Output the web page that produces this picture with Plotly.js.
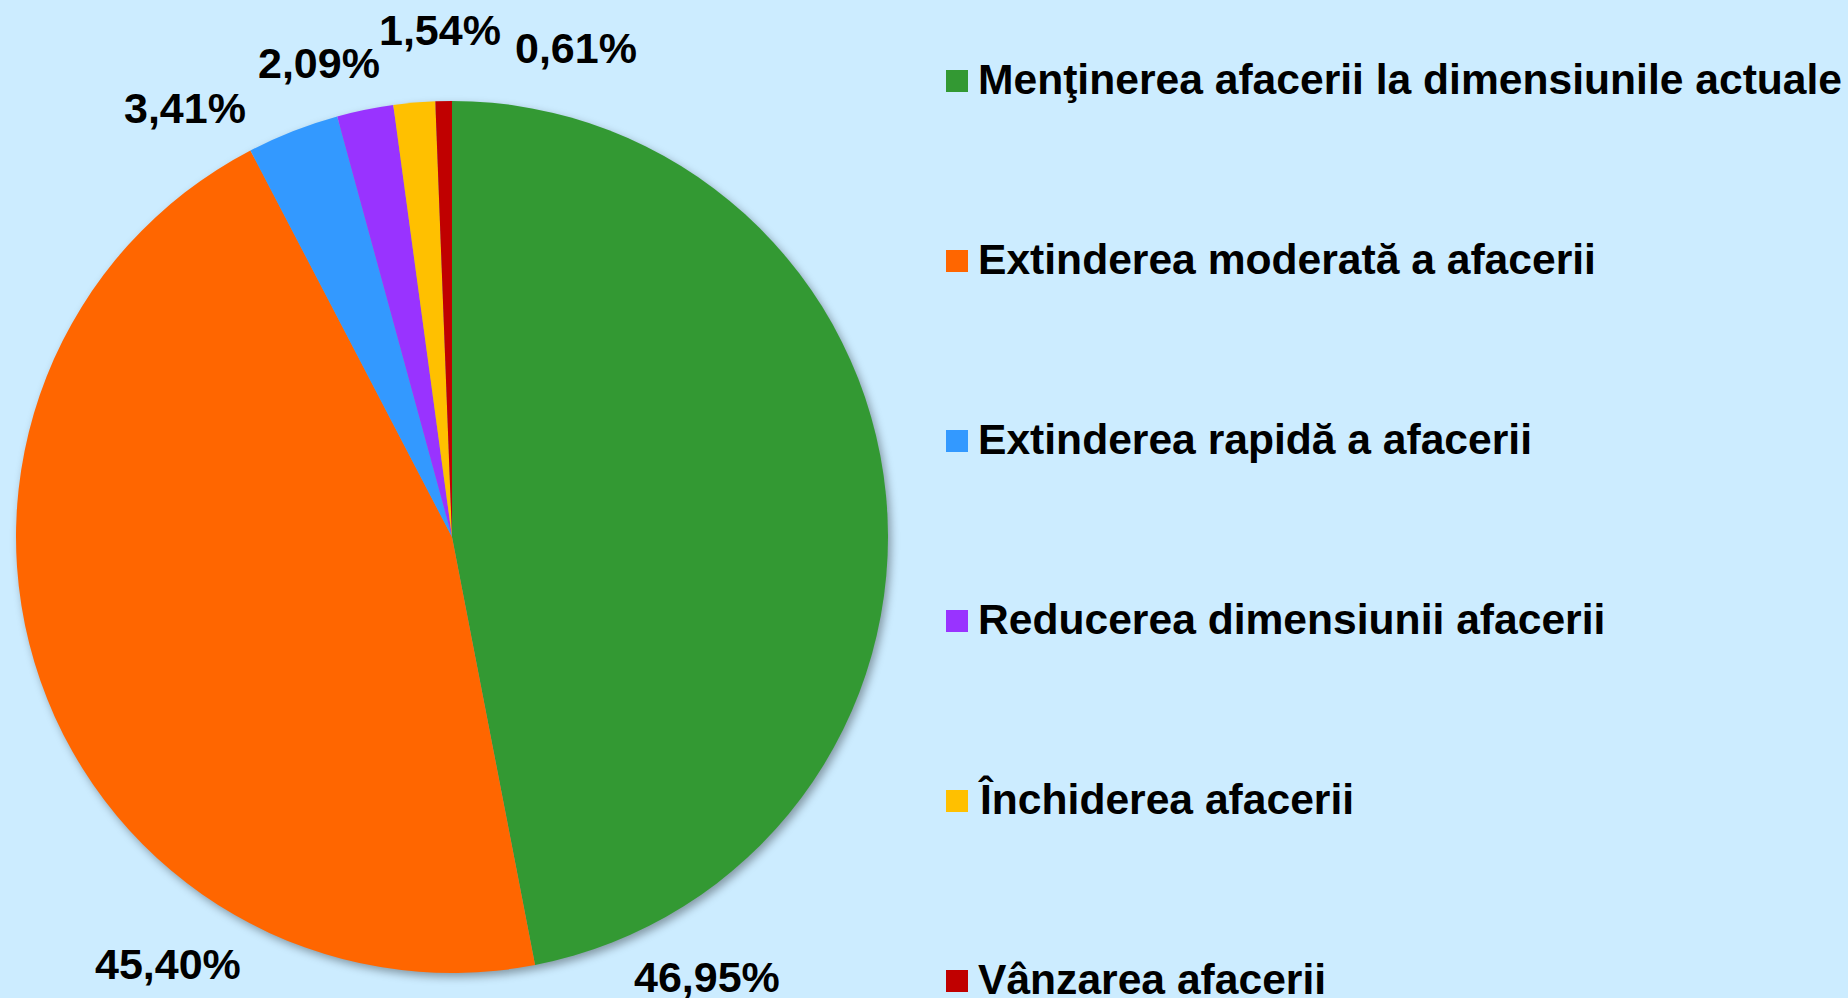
<!DOCTYPE html>
<html>
<head>
<meta charset="utf-8">
<script src="https://cdn.plot.ly/plotly-3.0.1.min.js"></script>
<style>
  html, body { margin: 0; padding: 0; background: #CCECFF; }
  #chart { width: 1848px; height: 998px; }
  .pielayer { filter: drop-shadow(3px 4px 4px rgba(0,0,0,0.35)); }
</style>
</head>
<body>
<div id="chart"></div>
<script>
// ---- data ----
const categories = [
  "Menţinerea afacerii la dimensiunile actuale",
  "Extinderea moderată a afacerii",
  "Extinderea rapidă a afacerii",
  "Reducerea dimensiunii afacerii",
  "Închiderea afacerii",
  "Vânzarea afacerii"
];
const values = [46.95, 45.40, 3.41, 2.09, 1.54, 0.61];
const colors = ["#339933", "#FF6600", "#3399FF", "#9933FF", "#FFC000", "#C00000"];

// ---- layout helpers (pixel positions of the hand-placed data labels, legend) ----
const W = 1848, H = 998;
const labelPos = [[707, 977], [168, 964], [185, 108], [319, 63], [440, 30], [576, 48]];
const legendX = 976, markerX = 957, legendY0 = 81, legendStep = 180, markerSize = 22;
const px = x => x / W;
const py = y => 1 - y / H;
const labelFont = { family: "Liberation Sans, Arial, sans-serif", size: 43, color: "#000000", weight: 700 };
const legendFont = { family: "Liberation Sans, Arial, sans-serif", size: 42.6, color: "#000000", weight: 700 };

const fmt = v => v.toFixed(2).replace('.', ',') + '%';

const trace = {
  type: 'pie',
  labels: categories,
  values: values,
  sort: false,
  direction: 'clockwise',
  rotation: 0,
  textinfo: 'none',
  hoverinfo: 'none',
  marker: { colors: colors, line: { width: 0 } },
  domain: { x: [px(16), px(888)], y: [py(973), py(101)] },
  showlegend: false
};

const annotations = [];
const shapes = [];
values.forEach((v, i) => {
  annotations.push({
    text: fmt(v), xref: 'paper', yref: 'paper',
    x: px(labelPos[i][0]), y: py(labelPos[i][1]),
    xanchor: 'center', yanchor: 'middle', showarrow: false, font: labelFont
  });
});
categories.forEach((c, i) => {
  const cy = legendY0 + i * legendStep;
  annotations.push({
    text: c, xref: 'paper', yref: 'paper',
    x: px(legendX), y: py(cy - 2),
    xanchor: 'left', yanchor: 'middle', showarrow: false, font: legendFont
  });
  shapes.push({
    type: 'rect', xref: 'paper', yref: 'paper',
    x0: px(markerX - markerSize / 2), x1: px(markerX + markerSize / 2),
    y0: py(cy + markerSize / 2), y1: py(cy - markerSize / 2),
    fillcolor: colors[i], line: { width: 0 }
  });
});

const layout = {
  width: W, height: H,
  margin: { l: 0, r: 0, t: 0, b: 0, pad: 0 },
  paper_bgcolor: '#CCECFF',
  plot_bgcolor: '#CCECFF',
  showlegend: false,
  annotations: annotations,
  shapes: shapes
};

Plotly.newPlot('chart', [trace], layout, { staticPlot: true, displayModeBar: false });
</script>
</body>
</html>
